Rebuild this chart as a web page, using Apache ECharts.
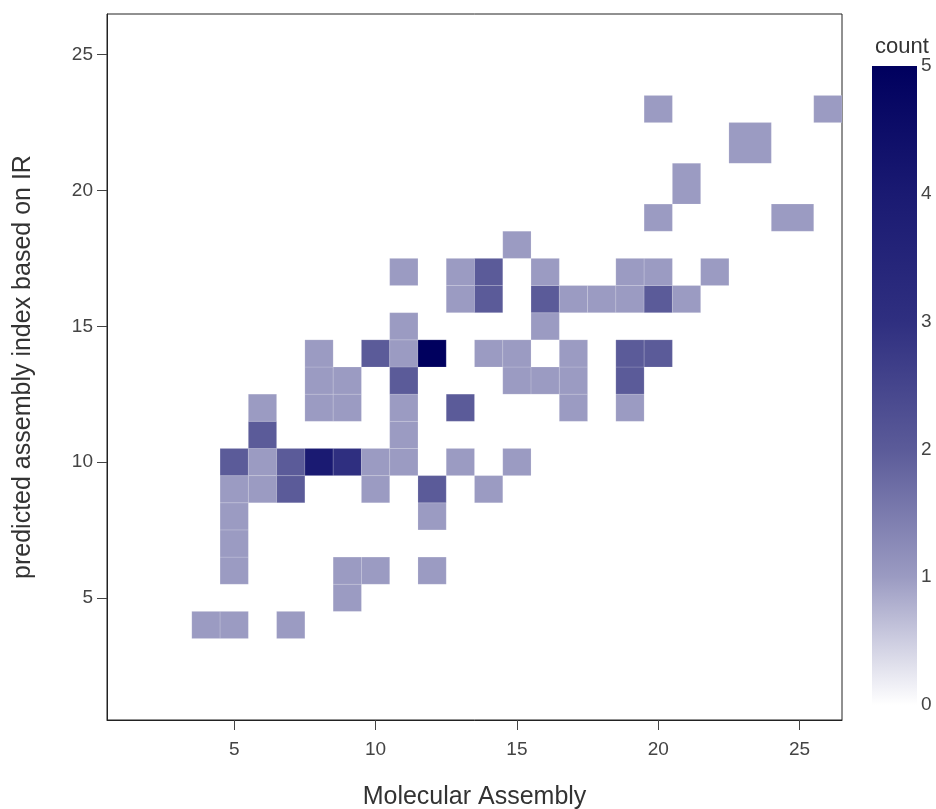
<!DOCTYPE html>
<html>
<head>
<meta charset="utf-8">
<script src="https://cdn.jsdelivr.net/npm/echarts@6/dist/echarts.min.js"></script>
<style>
  html, body { margin: 0; padding: 0; background: #ffffff; }
  #chart { width: 936px; height: 809px; }
</style>
</head>
<body>
<div id="chart"></div>
<script>
// Binned counts: molecular assembly (x) vs. IR-predicted assembly index (y)
const cellX = [
  4, 5, 7,
  9,
  5, 9, 10, 12,
  5,
  5, 12,
  5, 6, 7, 10, 12, 14,
  5, 6, 7, 8, 9, 10, 11, 13, 15,
  6, 11,
  6, 8, 9, 11, 13, 17, 19,
  8, 9, 11, 15, 16, 17, 19,
  8, 10, 11, 12, 14, 15, 17, 19, 20,
  11, 16,
  13, 14, 16, 17, 18, 19, 20, 21,
  11, 13, 14, 16, 19, 20, 22,
  15,
  20, 25,
  21,
  23,
  20, 26
];
const cellY = [
  4, 4, 4,
  5,
  6, 6, 6, 6,
  7,
  8, 8,
  9, 9, 9, 9, 9, 9,
  10, 10, 10, 10, 10, 10, 10, 10, 10,
  11, 11,
  12, 12, 12, 12, 12, 12, 12,
  13, 13, 13, 13, 13, 13, 13,
  14, 14, 14, 14, 14, 14, 14, 14, 14,
  15, 15,
  16, 16, 16, 16, 16, 16, 16, 16,
  17, 17, 17, 17, 17, 17, 17,
  18,
  19, 19,
  20,
  22,
  23, 23
];
const cellCount = [
  1, 1, 1,
  1,
  1, 1, 1, 1,
  1,
  1, 1,
  1, 1, 2, 1, 2, 1,
  2, 1, 2, 4, 3, 1, 1, 1, 1,
  2, 1,
  1, 1, 1, 1, 2, 1, 1,
  1, 1, 2, 1, 1, 1, 2,
  1, 2, 1, 5, 1, 1, 1, 2, 2,
  1, 1,
  1, 2, 2, 1, 1, 1, 2, 1,
  1, 1, 2, 1, 1, 1, 1,
  1,
  1, 1,
  1,
  1,
  1, 1
];

const axisTicks = [5, 10, 15, 20, 25];
const countTicks = [0, 1, 2, 3, 4, 5];
const countColors = ['#ffffff', '#9b9bc2', '#5b5b99', '#2f2f80', '#1a1a72', '#00005e'];

// Cell edges sit halfway between neighbouring bin centres (outer cells mirror their neighbour)
function binEdges(values) {
  const u = Array.from(new Set(values)).sort((a, b) => a - b);
  const edges = {};
  for (let i = 0; i < u.length; i++) {
    const lo = i > 0 ? (u[i - 1] + u[i]) / 2 : u[i] - (u[1] - u[0]) / 2;
    const hi = i < u.length - 1 ? (u[i] + u[i + 1]) / 2 : u[i] + (u[i] - u[i - 1]) / 2;
    edges[u[i]] = [lo, hi];
  }
  return edges;
}
const xEdges = binEdges(cellX);
const yEdges = binEdges(cellY);

const cells = cellX.map((x, i) => {
  const y = cellY[i];
  return [x, y, cellCount[i], xEdges[x][0], xEdges[x][1], yEdges[y][0], yEdges[y][1]];
});

const countMin = countTicks[0];
const countMax = countTicks[countTicks.length - 1];

const chart = echarts.init(document.getElementById('chart'), null, { renderer: 'canvas' });

const fontFamily = '"Liberation Sans", Arial, sans-serif';

chart.setOption({
  animation: false,
  backgroundColor: '#ffffff',
  textStyle: { fontFamily: fontFamily },
  title: {
    text: 'count',
    left: 870,
    top: 31,
    textStyle: { fontFamily: fontFamily, fontSize: 22, fontWeight: 'normal', color: '#333' }
  },
  grid: [
    { left: 107, top: 14, width: 735, height: 706, show: true, borderColor: '#222', borderWidth: 1,
      containLabel: false, outerBoundsMode: 'none' },
    { left: 872, top: 66, width: 45, height: 639, containLabel: false, outerBoundsMode: 'none' }
  ],
  xAxis: [
    {
      gridIndex: 0, type: 'value', min: 0.5, max: 26.5,
      name: 'Molecular Assembly', nameLocation: 'middle', nameGap: 65,
      nameTextStyle: { fontSize: 25, color: '#333', fontFamily: fontFamily },
      axisLine: { show: true, lineStyle: { color: '#222', width: 1 } },
      axisTick: { show: true, length: 10, customValues: axisTicks, lineStyle: { color: '#444' } },
      axisLabel: { customValues: axisTicks, margin: 20, fontSize: 19, color: '#444', fontFamily: fontFamily },
      splitLine: { show: false }
    },
    {
      gridIndex: 1, type: 'value', min: 0, max: 1, show: false
    }
  ],
  yAxis: [
    {
      gridIndex: 0, type: 'value', min: 0.5, max: 26.5,
      name: 'predicted assembly index based on IR', nameLocation: 'middle', nameGap: 71,
      nameTextStyle: { fontSize: 25, color: '#333', fontFamily: fontFamily },
      axisLine: { show: true, lineStyle: { color: '#222', width: 1 } },
      axisTick: { show: true, length: 10, customValues: axisTicks, lineStyle: { color: '#444' } },
      axisLabel: { customValues: axisTicks, margin: 14, fontSize: 19, color: '#444', fontFamily: fontFamily },
      splitLine: { show: false }
    },
    {
      gridIndex: 1, type: 'value', position: 'right', min: countMin, max: countMax, interval: 1,
      axisLine: { show: false },
      axisTick: { show: false },
      axisLabel: { margin: 4, fontSize: 19, color: '#444', fontFamily: fontFamily },
      splitLine: { show: false }
    }
  ],
  visualMap: {
    type: 'continuous',
    show: false,
    min: countMin,
    max: countMax,
    dimension: 2,
    seriesIndex: 0,
    inRange: { color: countColors }
  },
  series: [
    {
      type: 'custom',
      name: 'count',
      xAxisIndex: 0,
      yAxisIndex: 0,
      clip: true,
      encode: { x: 0, y: 1 },
      data: cells,
      renderItem: function (params, api) {
        const topLeft = api.coord([api.value(3), api.value(6)]);
        const bottomRight = api.coord([api.value(4), api.value(5)]);
        return {
          type: 'rect',
          shape: {
            x: topLeft[0],
            y: topLeft[1],
            width: bottomRight[0] - topLeft[0],
            height: bottomRight[1] - topLeft[1]
          },
          style: {
            fill: api.visual('color'),
            stroke: 'rgba(255,255,255,0.14)',
            lineWidth: 1
          }
        };
      }
    },
    {
      type: 'custom',
      name: 'colorbar',
      xAxisIndex: 1,
      yAxisIndex: 1,
      data: [[0, countMin, 1, countMax]],
      renderItem: function (params, api) {
        const topLeft = api.coord([api.value(0), api.value(3)]);
        const bottomRight = api.coord([api.value(2), api.value(1)]);
        const stops = countColors.map((c, i) => ({
          offset: 1 - i / (countColors.length - 1),
          color: c
        })).reverse();
        return {
          type: 'rect',
          shape: {
            x: topLeft[0],
            y: topLeft[1],
            width: bottomRight[0] - topLeft[0],
            height: bottomRight[1] - topLeft[1]
          },
          style: {
            fill: new echarts.graphic.LinearGradient(0, 0, 0, 1, stops)
          }
        };
      }
    }
  ]
});
</script>
</body>
</html>
